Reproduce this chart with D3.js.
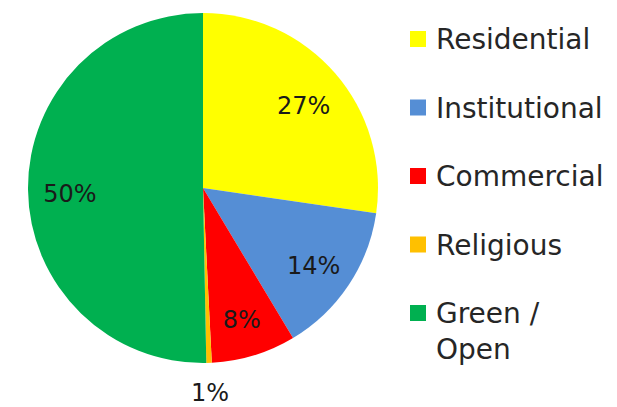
<!DOCTYPE html>
<html>
<head>
<meta charset="utf-8">
<script src="https://cdn.jsdelivr.net/npm/d3@7"></script>
<style>
  body { margin: 0; background: #fff; }
  text { font-family: "DejaVu Sans", sans-serif; fill: #262626; }
</style>
</head>
<body>
<script>
var categories = ["Residential", "Institutional", "Commercial", "Religious", "Green / Open"];
var shares = [27.3, 14.1, 7.8, 0.5, 50.3];
var shareLabels = ["27%", "14%", "8%", "1%", "50%"];
var colors = ["#FFFF00", "#558ED5", "#FF0000", "#FFC000", "#00B050"];

var width = 617, height = 407;
var cx = 203, cy = 188, radius = 175;

var svg = d3.select("body").append("svg")
    .attr("width", width)
    .attr("height", height);

var pie = d3.pie().sort(null).value(function(d) { return d; });
var arcs = pie(shares);

var arc = d3.arc().innerRadius(0).outerRadius(radius);
var labelArc = d3.arc().innerRadius(radius * 0.76).outerRadius(radius * 0.76);
var outerArc = d3.arc().innerRadius(radius * 1.17).outerRadius(radius * 1.17);

var g = svg.append("g").attr("transform", "translate(" + cx + "," + cy + ")");

g.selectAll("path")
    .data(arcs)
    .enter().append("path")
    .attr("d", arc)
    .attr("fill", function(d, i) { return colors[i]; });

// small slices get their label outside the pie
g.selectAll("text.pct")
    .data(arcs)
    .enter().append("text")
    .attr("class", "pct")
    .attr("transform", function(d) {
      var small = (d.endAngle - d.startAngle) < 0.1;
      var c = small ? outerArc.centroid(d) : labelArc.centroid(d);
      return "translate(" + c[0] + "," + (c[1] + (small ? 0 : 4)) + ")";
    })
    .attr("text-anchor", "middle")
    .attr("dy", "0.36em")
    .attr("font-size", 24)
    .style("fill", "#1a1a1a")
    .text(function(d, i) { return shareLabels[i]; });

// legend
var legend = svg.append("g").attr("transform", "translate(410,39)");
var rowH = 68.5;

var item = legend.selectAll("g")
    .data(categories)
    .enter().append("g")
    .attr("transform", function(d, i) { return "translate(0," + i * rowH + ")"; });

item.append("rect")
    .attr("x", 0)
    .attr("y", -8)
    .attr("width", 16)
    .attr("height", 16)
    .attr("fill", function(d, i) { return colors[i]; });

item.append("text")
    .attr("font-size", 28)
    .each(function(d) {
      var parts = d.indexOf(" / ") > -1 ? [d.split(" / ")[0] + " /", d.split(" / ")[1]] : [d];
      var t = d3.select(this);
      parts.forEach(function(p, j) {
        t.append("tspan").attr("x", 26).attr("dy", j == 0 ? "0.36em" : 36).text(p);
      });
    });
</script>
</body>
</html>
